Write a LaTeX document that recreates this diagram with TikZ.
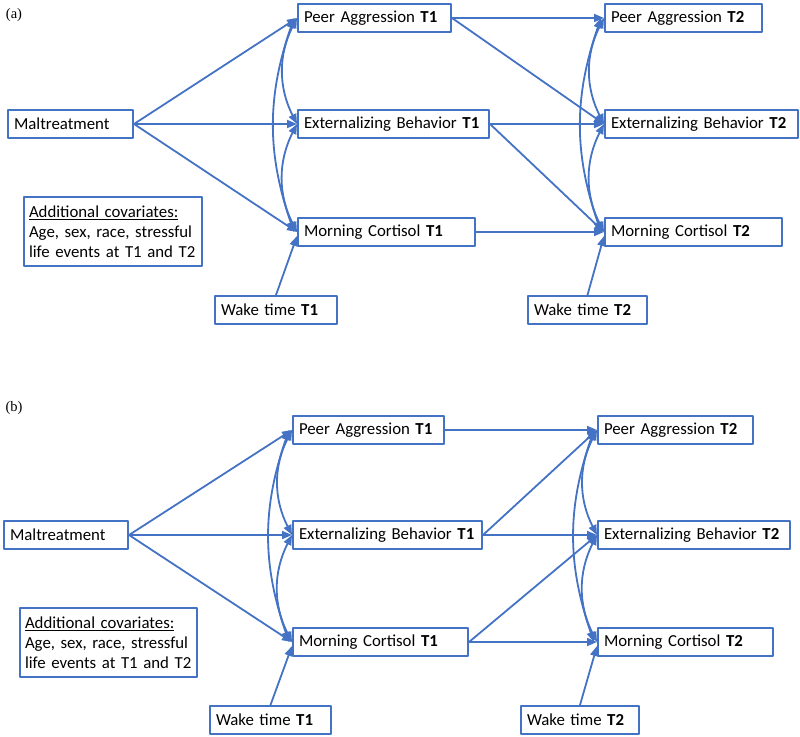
\documentclass[tikz,border=0pt]{standalone}
\usepackage{fontspec}
\setmainfont{Carlito}
\newfontfamily\panelfont{Liberation Serif}
\usetikzlibrary{arrows.meta}
\definecolor{lineblue}{HTML}{4472C4}

\begin{document}
\begin{tikzpicture}[x=1pt, y=-1pt, line join=round, line cap=round, >={Triangle[length=10pt,width=8pt]},
		font=\fontsize{16.8}{20}\selectfont,
		varbox/.style={draw=lineblue, line width=2pt, anchor=north west, inner xsep=6pt, inner ysep=0pt, minimum height=28pt, align=left},
		link/.style={->, draw=lineblue, line width=1.8pt},
		corr/.style={<->, draw=lineblue, line width=1.8pt}]
	\useasboundingbox (0,0) rectangle (800,736);
	% (a) 
	\node (alabel) at (14,15) {\panelfont\fontsize{14.5}{16}\selectfont(a)};
	\node[varbox, text width=113pt] (aMal) at (7,109) {Maltreatment};
	\node[varbox, text width=141pt] (aPA1) at (297,3) {Peer Aggression \textbf{T1}};
	\node[varbox, text width=179pt] (aEB1) at (297,109) {Externalizing Behavior \textbf{T1}};
	\node[varbox, text width=165pt] (aMC1) at (297,217) {Morning Cortisol \textbf{T1}};
	\node[varbox, text width=145pt] (aPA2) at (604,3) {Peer Aggression \textbf{T2}};
	\node[varbox, text width=181pt] (aEB2) at (604,109) {Externalizing Behavior \textbf{T2}};
	\node[varbox, text width=165pt] (aMC2) at (604,217) {Morning Cortisol \textbf{T2}};
	\node[varbox, text width=110pt] (aWk1) at (214,295) {Wake time \textbf{T1}};
	\node[varbox, text width=107pt] (aWk2) at (527,295) {Wake time \textbf{T2}};
	\node[varbox, inner xsep=5pt, text width=168pt, minimum height=69pt] (aCov) at (23,196) {\underline{Additional covariates:}\\Age, sex, race, stressful\\life events at T1 and T2};
	\draw[link] (aMal.east) -- (aPA1.west);
	\draw[link] (aMal.east) -- (aEB1.west);
	\draw[link] (aMal.east) -- (aMC1.west);
	\draw[link] (aWk1.north) -- ([yshift=-4pt]aMC1.west);
	\draw[link] (aPA1.east) -- (aPA2.west);
	\draw[link] (aPA1.east) -- (aEB2.west);
	\draw[link] (aEB1.east) -- (aEB2.west);
	\draw[link] (aEB1.east) -- (aMC2.west);
	\draw[link] (aMC1.east) -- (aMC2.west);
	\draw[link] (aWk2.north) -- ([yshift=-4pt]aMC2.west);
	\draw[corr] (aPA1.west) to[bend right=27] (aEB1.west);
	\draw[corr] (aEB1.west) to[bend right=27] (aMC1.west);
	\draw[corr] ([xshift=-3pt]aPA1.west) to[bend right=19] ([xshift=-3pt]aMC1.west);
	\draw[corr] (aPA2.west) to[bend right=27] (aEB2.west);
	\draw[corr] (aEB2.west) to[bend right=27] (aMC2.west);
	\draw[corr] ([xshift=-3pt]aPA2.west) to[bend right=19] ([xshift=-3pt]aMC2.west);
	% (b)
	\node (blabel) at (14,408) {\panelfont\fontsize{14.5}{16}\selectfont(b)};
	\node[varbox, text width=112pt] (bMal) at (3,520) {Maltreatment};
	\node[varbox, text width=139pt] (bPA1) at (292,415) {Peer Aggression \textbf{T1}};
	\node[varbox, text width=177pt] (bEB1) at (292,520) {Externalizing Behavior \textbf{T1}};
	\node[varbox, text width=163pt] (bMC1) at (292,627) {Morning Cortisol \textbf{T1}};
	\node[varbox, text width=143pt] (bPA2) at (597,415) {Peer Aggression \textbf{T2}};
	\node[varbox, text width=180pt] (bEB2) at (597,520) {Externalizing Behavior \textbf{T2}};
	\node[varbox, text width=163pt] (bMC2) at (597,627) {Morning Cortisol \textbf{T2}};
	\node[varbox, text width=109pt] (bWk1) at (209,705) {Wake time \textbf{T1}};
	\node[varbox, text width=106pt] (bWk2) at (520,705) {Wake time \textbf{T2}};
	\node[varbox, inner xsep=5pt, text width=167pt, minimum height=69pt] (bCov) at (19,607) {\underline{Additional covariates:}\\Age, sex, race, stressful\\life events at T1 and T2};
	\draw[link] (bMal.east) -- (bPA1.west);
	\draw[link] (bMal.east) -- (bEB1.west);
	\draw[link] (bMal.east) -- (bMC1.west);
	\draw[link] (bWk1.north) -- ([yshift=-4pt]bMC1.west);
	\draw[link] (bPA1.east) -- (bPA2.west);
	\draw[link] (bEB1.east) -- (bPA2.west);
	\draw[link] (bEB1.east) -- (bEB2.west);
	\draw[link] (bMC1.east) -- (bEB2.west);
	\draw[link] (bMC1.east) -- (bMC2.west);
	\draw[link] (bWk2.north) -- ([yshift=-4pt]bMC2.west);
	\draw[corr] (bPA1.west) to[bend right=27] (bEB1.west);
	\draw[corr] (bEB1.west) to[bend right=27] (bMC1.west);
	\draw[corr] ([xshift=-3pt]bPA1.west) to[bend right=19] ([xshift=-3pt]bMC1.west);
	\draw[corr] (bPA2.west) to[bend right=27] (bEB2.west);
	\draw[corr] (bEB2.west) to[bend right=27] (bMC2.west);
	\draw[corr] ([xshift=-3pt]bPA2.west) to[bend right=19] ([xshift=-3pt]bMC2.west);
\end{tikzpicture}
\end{document}
